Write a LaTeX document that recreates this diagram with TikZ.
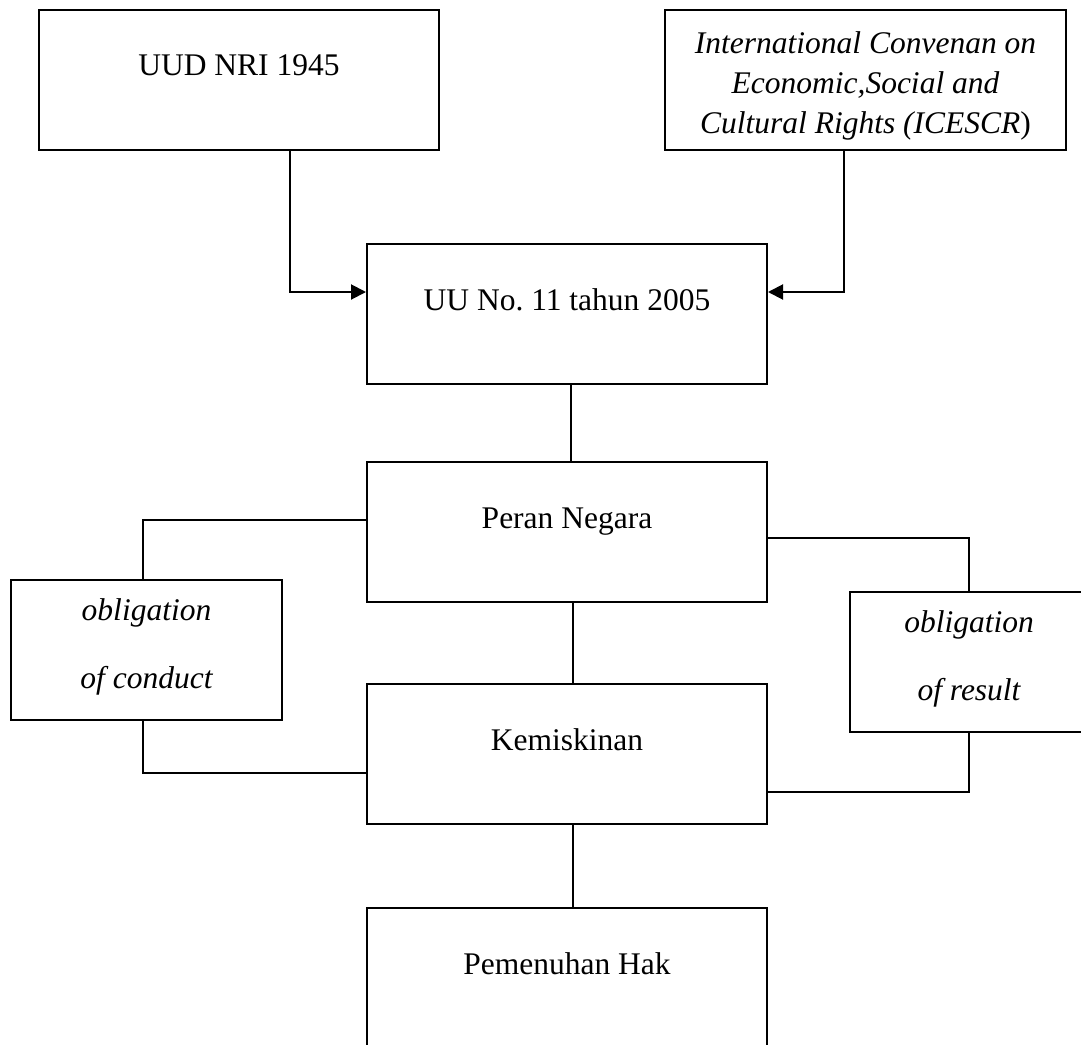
\documentclass[tikz,border=0pt]{standalone}
\usepackage{fontspec}
\setmainfont{Liberation Serif}
\usetikzlibrary{arrows.meta}
\begin{document}
\begin{tikzpicture}[x=1pt,y=-1pt,
  boxnode/.style={draw=black, line width=2pt, rectangle, inner sep=0pt, minimum height=140pt},
  txt/.style={inner sep=0pt, anchor=base, font=\fontsize{31.5}{38.5}\selectfont},
  conn/.style={draw=black, line width=2pt},
  arr/.style={conn, -{Triangle[length=15pt,width=15pt]}}]
\useasboundingbox (0,0) rectangle (1081,1044);
\clip (0,0) rectangle (1081,1044);
\fill[white] (0,0) rectangle (1081,1044);
% boxes
\node[boxnode, minimum width=400pt] (uud) at (239,80) {};
\node[boxnode, minimum width=401pt] (ice) at (865.5,80) {};
\node[boxnode, minimum width=400pt] (uu) at (567,314) {};
\node[boxnode, minimum width=400pt] (peran) at (567,532) {};
\node[boxnode, minimum width=271pt] (cond) at (146.5,650) {};
\node[boxnode, minimum width=400pt] (kem) at (567,754) {};
\node[boxnode, minimum width=238pt] (res) at (969,662) {};
\node[boxnode, minimum width=400pt, minimum height=160pt] (hak) at (567,988) {};
% texts
\node[txt] (tuud) at (239,75) {UUD NRI 1945};
\node[txt] (tice1) at (865.5,53) {\itshape International Convenan on};
\node[txt] (tice2) at (865.5,93) {\itshape Economic,Social and};
\node[txt] (tice3) at (865.5,133) {\itshape Cultural Rights (ICESCR\/\upshape)};
\node[txt] (tuu) at (567,310) {UU No.\ 11 tahun 2005};
\node[txt] (tperan) at (567,528) {Peran Negara};
\node[txt] (tkem) at (567,750) {Kemiskinan};
\node[txt] (thak) at (567,974) {Pemenuhan Hak};
\node[txt] (tcond1) at (146.5,620) {\itshape obligation};
\node[txt] (tcond2) at (146.5,688) {\itshape of conduct};
\node[txt] (tres1) at (969,632) {\itshape obligation};
\node[txt] (tres2) at (969,700) {\itshape of result};
% connectors
\draw[arr] ([xshift=51pt]uud.south) |- ([yshift=22pt]uu.west);
\draw[arr] ([xshift=-21.5pt]ice.south) |- ([yshift=22pt]uu.east);
\draw[conn] ([xshift=4pt]uu.south) -- ([xshift=4pt]peran.north);
\draw[conn] ([xshift=6pt]peran.south) -- ([xshift=6pt]kem.north);
\draw[conn] ([xshift=6pt]kem.south) -- ([xshift=6pt]hak.north);
\draw[conn] ([yshift=12pt]peran.west) -| ([xshift=-3.5pt]cond.north);
\draw[conn] ([xshift=-3.5pt]cond.south) |- ([yshift=-19pt]kem.west);
\draw[conn] ([yshift=-6pt]peran.east) -| (res.north);
\draw[conn] (res.south) |- ([yshift=-38pt]kem.east);
\end{tikzpicture}
\end{document}
